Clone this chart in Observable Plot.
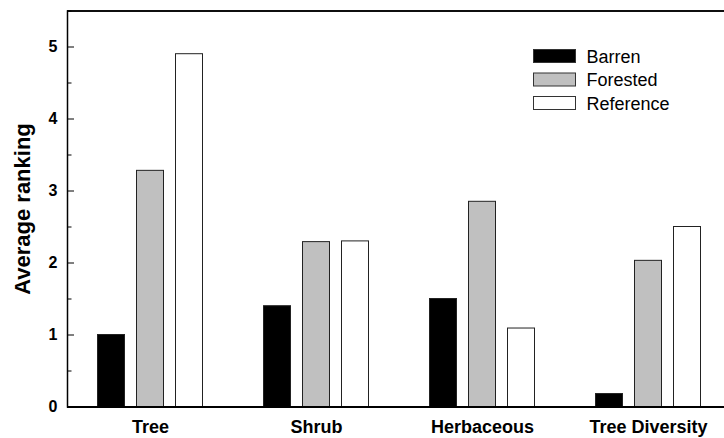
<!DOCTYPE html>
<html>
<head>
<meta charset="utf-8">
<script src="https://cdn.jsdelivr.net/npm/d3@7"></script>
<script src="https://cdn.jsdelivr.net/npm/@observablehq/plot@0.6"></script>
<style>
  html, body { margin: 0; padding: 0; background: #fff; overflow: hidden; }
  #chart { position: relative; width: 724px; height: 438px; overflow: hidden; }
  svg { font-family: "Liberation Sans", Arial, sans-serif; }
</style>
</head>
<body>
<div id="chart"></div>
<script>
const categories = ["Tree", "Shrub", "Herbaceous", "Tree Diversity"];
const series = ["Barren", "Forested", "Reference"];
const barren    = [1.00, 1.40, 1.50, 0.18];
const forested  = [3.28, 2.29, 2.85, 2.03];
const reference = [4.90, 2.30, 1.09, 2.50];
const majorTicks = [0, 1, 2, 3, 4, 5];
const minorTicks = [0.5, 1.5, 2.5, 3.5, 4.5, 5.5];
const fills = ["#000000", "#c0c0c0", "#ffffff"];

const values = [barren, forested, reference];
const rows = [];
series.forEach((s, si) => categories.forEach((c, ci) => rows.push({category: c, series: s, value: values[si][ci]})));

const W = 724, H = 438;
const mL = 67, mR = -7, mT = 10.5, mB = 31.5;
const frameW = W - mR - mL;
const band = frameW / categories.length;
const barW = 27, step = 39;
const inset = (band - barW) / 2;

const barMarks = series.map((s, si) =>
  Plot.barY(rows.filter(d => d.series === s), {
    x: "category", y: "value",
    fill: fills[si], stroke: "#222", strokeWidth: 1,
    insetLeft: inset, insetRight: inset,
    dx: (si - 1) * step
  })
);

const plot = Plot.plot({
  width: W, height: H,
  marginLeft: mL, marginRight: mR, marginTop: mT, marginBottom: mB,
  style: {fontFamily: '"Liberation Sans", Arial, sans-serif', background: "transparent"},
  x: {domain: categories, padding: 0, label: null},
  y: {domain: [0, 5.5], label: null},
  marks: [
    ...barMarks,
    Plot.axisX({tickSize: 0, tickPadding: 13, fontSize: 18, fontWeight: "bold", label: null, fill: "#000"}),
    Plot.axisY(majorTicks, {tickSize: 0, tickPadding: 10, fontSize: 16, fontWeight: "bold", label: null, fill: "#000", tickFormat: d3.format("d")}),
    Plot.tickY(majorTicks, {y: d => d, insetRight: frameW - 7, stroke: "#000", strokeWidth: 1}),
    Plot.tickY(minorTicks, {y: d => d, insetRight: frameW - 4.5, stroke: "#000", strokeWidth: 1}),
    Plot.tickY(majorTicks, {y: d => d, insetLeft: frameW - 7, stroke: "#000", strokeWidth: 1}),
    Plot.tickY(minorTicks, {y: d => d, insetLeft: frameW - 4.5, stroke: "#000", strokeWidth: 1}),
    Plot.frame({stroke: "#000", strokeWidth: 1.5}),
    Plot.ruleY([0], {stroke: "#000", strokeWidth: 2}),
    Plot.ruleY([5.5], {stroke: "#000", strokeWidth: 1.5}),
    Plot.text(["Average ranking"], {
      frameAnchor: "left", rotate: -90, dx: -45, fontSize: 22, fontWeight: "bold",
      textAnchor: "middle", fill: "#000"
    })
  ]
});

// legend inside the plot area
const svg = d3.select(plot);
const lg = svg.append("g").attr("class", "legend");
const row = lg.selectAll("g").data(series).join("g")
  .attr("transform", (d, i) => `translate(533.5, ${49.5 + i * 23.5})`);
row.append("rect")
  .attr("width", 42).attr("height", 13)
  .attr("fill", (d, i) => fills[i]).attr("stroke", "#333").attr("stroke-width", 1);
row.append("text")
  .attr("x", 53).attr("y", 13)
  .attr("text-anchor", "start")
  .attr("font-size", 18).attr("fill", "#000")
  .text(d => d);

document.getElementById("chart").appendChild(plot);
</script>
</body>
</html>
